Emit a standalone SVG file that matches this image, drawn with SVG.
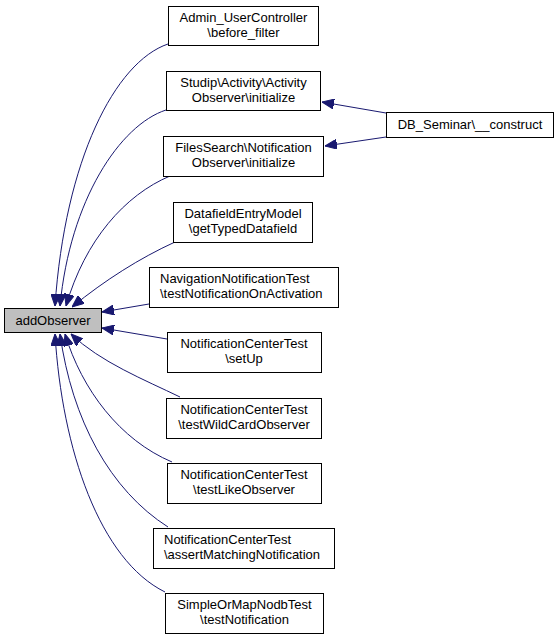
<svg xmlns="http://www.w3.org/2000/svg" width="560" height="640" viewBox="0 0 560 640">
<defs>
<style>
.node rect{fill:#ffffff;stroke:#000000;stroke-width:1}
.root rect{fill:#bfbfbf;stroke:#000000;stroke-width:1}
text{font-family:"Liberation Sans",Arial,Helvetica,sans-serif;font-size:13px;fill:#000000}
.c{text-anchor:middle}
.l{text-anchor:start}
.edge{fill:none;stroke:#191970;stroke-width:1}
</style>
<marker id="arr" viewBox="0 0 12 10" refX="12" refY="5" markerWidth="12" markerHeight="10" markerUnits="userSpaceOnUse" orient="auto">
<polygon points="0,0 12,5 0,10" fill="#191970" stroke="#191970" stroke-width="1"/>
</marker>
</defs>
<rect width="560" height="640" fill="#ffffff"/>
<g id="edges">
<path class="edge" marker-end="url(#arr)" d="M168,44 C115,62 65,160 55,306"/>
<path class="edge" marker-end="url(#arr)" d="M166,110 C120,125 70,200 60,306"/>
<path class="edge" marker-end="url(#arr)" d="M170,176 C125,195 85,240 66,306"/>
<path class="edge" marker-end="url(#arr)" d="M175,242 C140,258 105,280 72,307"/>
<path class="edge" marker-end="url(#arr)" d="M149,304 L102,312"/>
<path class="edge" marker-end="url(#arr)" d="M167,339 L102,328"/>
<path class="edge" marker-end="url(#arr)" d="M180,397 C145,380 100,362 71,334"/>
<path class="edge" marker-end="url(#arr)" d="M172,462 C120,440 82,390 65,334"/>
<path class="edge" marker-end="url(#arr)" d="M168,527 C110,490 72,420 60,334"/>
<path class="edge" marker-end="url(#arr)" d="M165,592 C100,560 62,450 55,334"/>
<path class="edge" marker-end="url(#arr)" d="M386,113 L322,102"/>
<path class="edge" marker-end="url(#arr)" d="M386,137 L325,146"/>
</g>
<g id="addObserver" class="root">
<rect x="4.5" y="308.5" width="97" height="24"/>
<text class="c" x="53" y="325">addObserver</text>
</g>
<g id="admin_usercontroller" class="node">
<rect x="168.5" y="6.5" width="150" height="39"/>
<text class="c" x="243.5" y="22">Admin_UserController</text>
<text class="c" x="243.5" y="37">\before_filter</text>
</g>
<g id="studip_activity" class="node">
<rect x="166.5" y="71.5" width="154" height="39"/>
<text class="c" x="243.5" y="87">Studip\Activity\Activity</text>
<text class="c" x="243.5" y="102">Observer\initialize</text>
</g>
<g id="filessearch" class="node">
<rect x="163.5" y="136.5" width="160" height="40"/>
<text class="c" x="243.5" y="152">FilesSearch\Notification</text>
<text class="c" x="243.5" y="167">Observer\initialize</text>
</g>
<g id="datafieldentrymodel" class="node">
<rect x="173.5" y="202.5" width="139" height="40"/>
<text class="c" x="243" y="218">DatafieldEntryModel</text>
<text class="c" x="243" y="233">\getTypedDatafield</text>
</g>
<g id="navigationnotificationtest" class="node">
<rect x="149.5" y="267.5" width="189" height="40"/>
<text class="l" x="160" y="283">NavigationNotificationTest</text>
<text class="l" x="160" y="298">\testNotificationOnActivation</text>
</g>
<g id="setup" class="node">
<rect x="167.5" y="332.5" width="154" height="40"/>
<text class="c" x="244" y="348">NotificationCenterTest</text>
<text class="c" x="244" y="363">\setUp</text>
</g>
<g id="testwildcardobserver" class="node">
<rect x="166.5" y="398.5" width="155" height="40"/>
<text class="c" x="244" y="414">NotificationCenterTest</text>
<text class="c" x="244" y="429">\testWildCardObserver</text>
</g>
<g id="testlikeobserver" class="node">
<rect x="167.5" y="463.5" width="154" height="40"/>
<text class="c" x="244" y="479">NotificationCenterTest</text>
<text class="c" x="244" y="494">\testLikeObserver</text>
</g>
<g id="assertmatchingnotification" class="node">
<rect x="153.5" y="528.5" width="181" height="40"/>
<text class="l" x="164" y="544">NotificationCenterTest</text>
<text class="l" x="164" y="559">\assertMatchingNotification</text>
</g>
<g id="simpleormapnodbtest" class="node">
<rect x="165.5" y="593.5" width="158" height="40"/>
<text class="c" x="244.5" y="609">SimpleOrMapNodbTest</text>
<text class="c" x="244.5" y="624">\testNotification</text>
</g>
<g id="db_seminar" class="node">
<rect x="386.5" y="112.5" width="167" height="25"/>
<text class="c" x="470" y="129">DB_Seminar\__construct</text>
</g>
</svg>
